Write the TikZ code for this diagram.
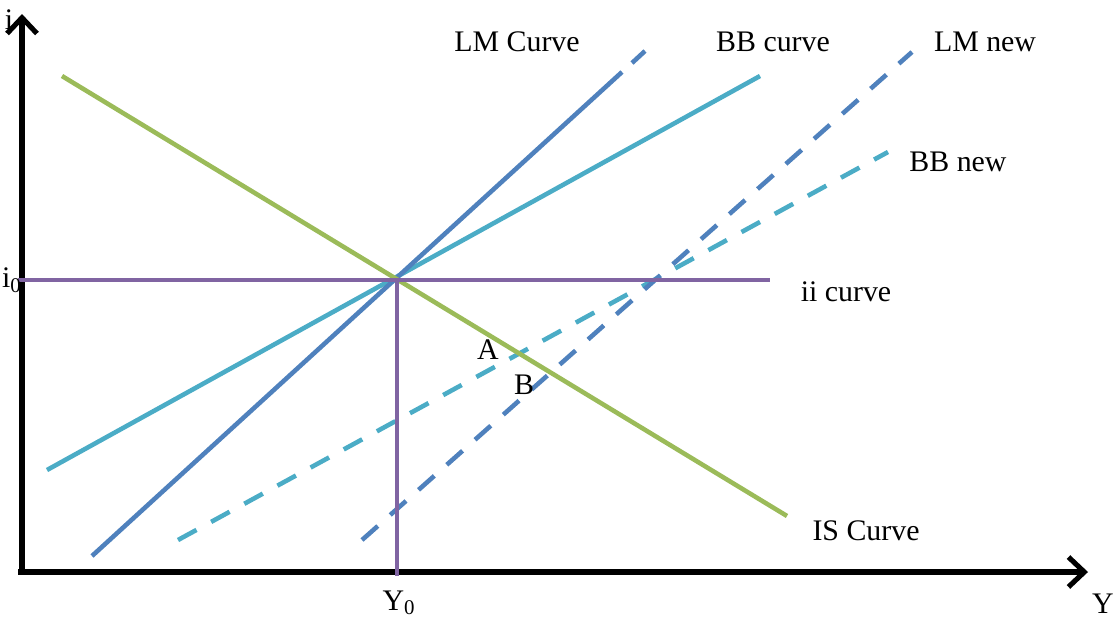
\documentclass[tikz,border=0pt]{standalone}
\usepackage{fontspec}
\setmainfont{Liberation Serif}
\usetikzlibrary{arrows.meta}
\definecolor{ISGreen}{RGB}{155,187,89}
\definecolor{LMBlue}{RGB}{79,129,189}
\definecolor{BBTeal}{RGB}{75,172,198}
\definecolor{iiPurple}{RGB}{128,100,162}

\begin{document}
\begin{tikzpicture}[x=0.02cm,y=-0.02cm,
    axis/.style={line width=2.9pt,-{Straight Barb[length=9pt,width=17pt,line width=2.9pt]}},
    curve/.style={line width=2.6pt},
    shifted/.style={curve,dash pattern=on 12pt off 9.5pt},
    lbl/.style={font=\fontsize{17}{20}\selectfont,inner sep=0pt}]
      \useasboundingbox (0,0) rectangle (1114,619);
      % axes
      \coordinate (orig) at (22,572);
      \coordinate (itop) at (22,14);
      \coordinate (yend) at (1088,572);
      \draw[axis] (orig) -- (itop);
      \draw[axis] (18,572) -- (yend);
      % equilibrium point
      \coordinate (E) at (397,280);
      \coordinate (isA) at (62,76);
      \coordinate (isB) at (787,516);
      \coordinate (lmA) at (92,556);
      \coordinate (lmB) at (622,72);
      \coordinate (lmC) at (632,63);
      \coordinate (lmD) at (645,51);
      \coordinate (bbA) at (47,470);
      \coordinate (bbB) at (760,76);
      \coordinate (iiA) at (18,280);
      \coordinate (iiB) at (770,280);
      \coordinate (yfoot) at (397,576);
      \coordinate (lmnA) at (362,540);
      \coordinate (lmnB) at (912,52);
      \coordinate (bbnA) at (178,540);
      \coordinate (bbnB) at (888,152);
      \draw[curve,BBTeal] (bbA) -- (bbB);
      \draw[curve,LMBlue] (lmA) -- (lmB);
      \draw[curve,LMBlue] (lmC) -- (lmD);
      \draw[shifted,BBTeal] (bbnA) -- (bbnB);
      \draw[shifted,LMBlue] (lmnA) -- (lmnB);
      \draw[curve,ISGreen] (isA) -- (isB);
      \draw[curve,iiPurple] (iiA) -- (iiB);
      \draw[curve,iiPurple] (E) -- (yfoot);
      % labels
      \node[lbl] (ilabel) at (9,20) {i};
      \node[lbl] (i0label) at (12,280) {i\textsubscript{0}};
      \node[lbl] (y0label) at (399,603) {Y\textsubscript{0}};
      \node[lbl] (ylabel) at (1103,604) {Y};
      \node[lbl] (lmlabel) at (517,42) {LM Curve};
      \node[lbl] (bblabel) at (773,42) {BB curve};
      \node[lbl] (lmnlabel) at (985,42) {LM new};
      \node[lbl] (bbnlabel) at (958,162) {BB new};
      \node[lbl] (iilabel) at (846,292) {ii curve};
      \node[lbl] (islabel) at (866,531) {IS Curve};
      \node[lbl] (alabel) at (488,350) {A};
      \node[lbl] (blabel) at (524,385) {B};
    \end{tikzpicture}
\end{document}
